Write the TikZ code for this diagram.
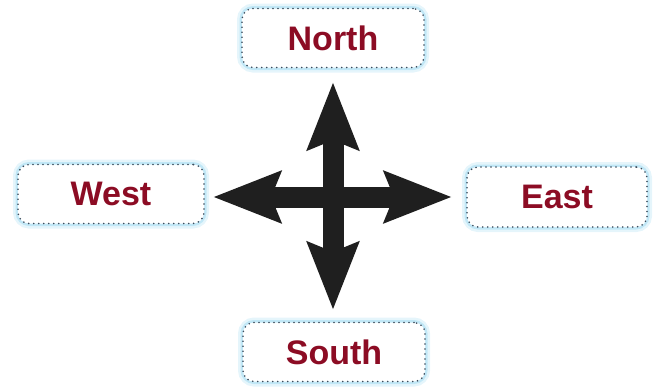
\documentclass[tikz,border=0pt]{standalone}
\usepackage{fontspec}
\setmainfont{Liberation Sans}
\usetikzlibrary{arrows.meta, positioning}
\definecolor{dirred}{RGB}{140,12,36}
\definecolor{dotgray}{RGB}{60,76,92}
\definecolor{glowblue}{RGB}{150,215,240}

\begin{document}
\begin{tikzpicture}[x=1pt, y=-1pt,
		dirbox/.style={draw=dotgray, fill=white, line width=1.8pt, line cap=round,
			dash pattern=on 0pt off 5pt, rounded corners=11pt,
			minimum width=182pt, minimum height=59pt,
			font=\bfseries\fontsize{34}{40}\selectfont, text=dirred,
			preaction={draw=glowblue, line width=10pt, opacity=0.25, solid},
			preaction={draw=glowblue, line width=5pt, opacity=0.45, solid}},
		compass/.style={draw=black!88, line width=21pt,
			{Stealth[length=67pt, width=50pt, inset=9pt]}-{Stealth[length=67pt, width=50pt, inset=9pt]}}]
			\useasboundingbox (0,0) rectangle (661,389);
			\node[dirbox] (north) at (333,38) {North};
			\node[dirbox, minimum width=186pt] (west) at (111,194) {West};
			\node[dirbox, minimum width=180pt, minimum height=60pt] (east) at (557,197) {East};
			\node[dirbox] (south) at (334,352) {South};
			
			\coordinate (ntip) at (333,82);
			\coordinate (stip) at (333,310);
			\coordinate (wtip) at (213,197);
			\coordinate (etip) at (452,197);
			
			\draw[compass] (wtip) -- (etip);
			\draw[compass] (ntip) -- (stip);
		\end{tikzpicture}
\end{document}
